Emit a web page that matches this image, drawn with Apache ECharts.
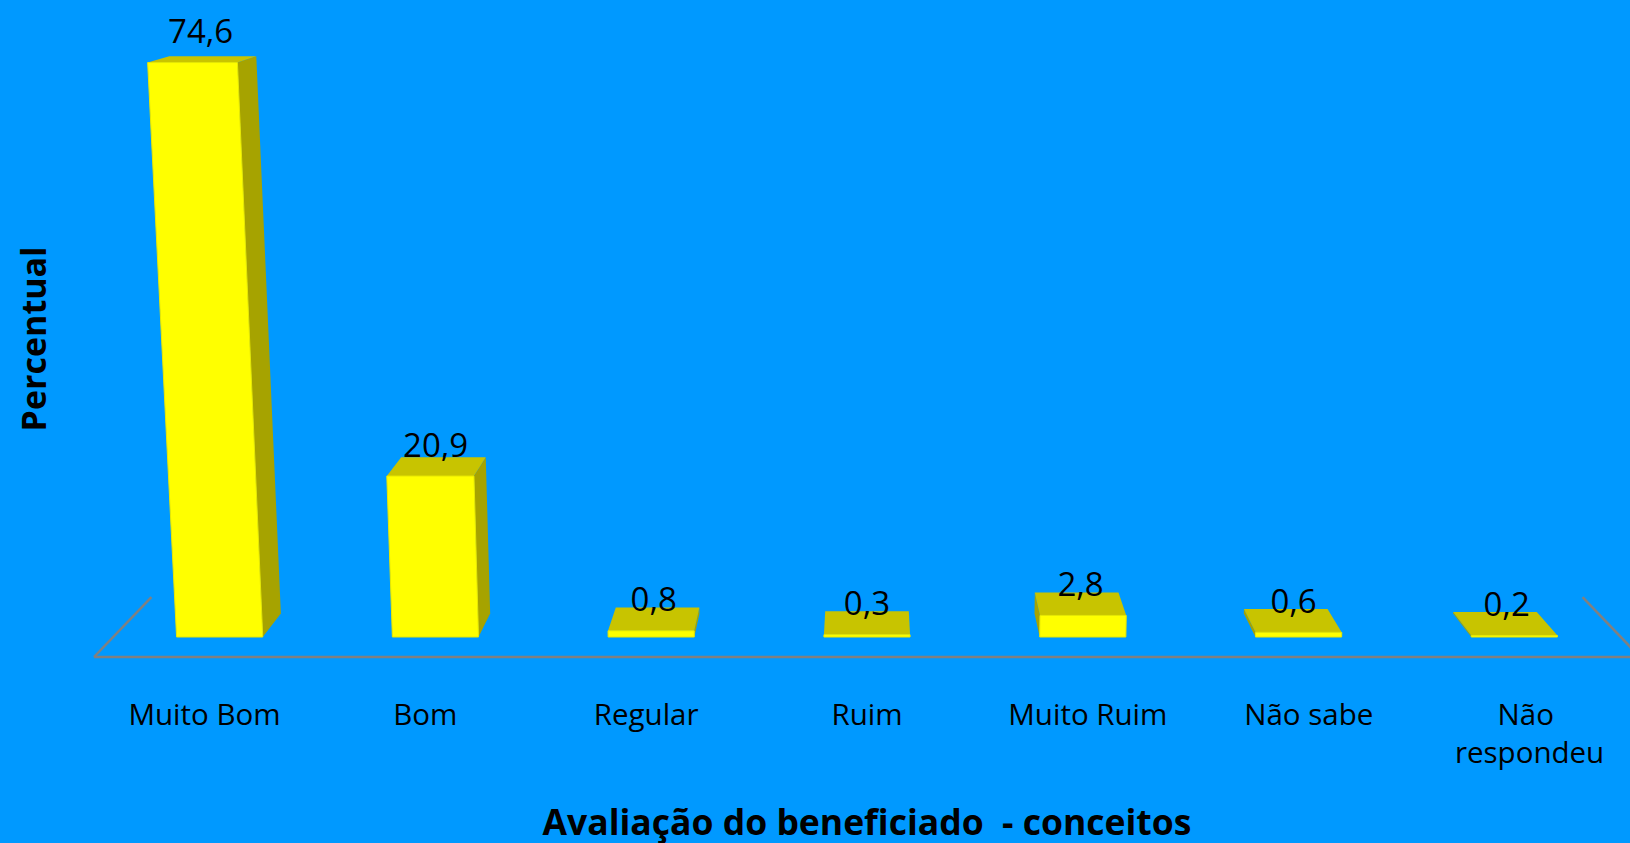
<!DOCTYPE html>
<html>
<head>
<meta charset="utf-8">
<script src="https://cdn.jsdelivr.net/npm/echarts@6/dist/echarts.min.js"></script>
<style>
html,body{margin:0;padding:0;background:#0099FF;}
#chart{width:1630px;height:843px;}
</style>
</head>
<body>
<div id="chart"></div>
<script>
const categories = ['Muito Bom', 'Bom', 'Regular', 'Ruim', 'Muito Ruim', 'Não sabe', 'Não respondeu'];
const values = [74.6, 20.9, 0.8, 0.3, 2.8, 0.6, 0.2];
const xAxisName = 'Avaliação do beneficiado  - conceitos';
const yAxisName = 'Percentual';

const FONT = '"Open Sans", "Noto Sans", sans-serif';
const FRONT = '#FFFF00', TOP = '#C8C400', SIDE = '#A6A300';

function persp(api) {
  const n = categories.length;
  const first = api.coord([0, 0]);
  const last = api.coord([n - 1, 0]);
  const cx = (first[0] + last[0]) / 2;
  const yb = first[1];
  const band = api.size([1, 0])[0];
  const vpy = yb - band * 3.56;
  return { cx, yb, band, vpy, first, last };
}
function toward(P, cx, vpy, t) {
  return [P[0] + t * (cx - P[0]), P[1] + t * (vpy - P[1])];
}

const barData = values.map((v, i) => [i, v]);

const chart = echarts.init(document.getElementById('chart'), null, { renderer: 'svg' });
chart.setOption({
  backgroundColor: '#0099FF',
  animation: false,
  grid: { left: 94, right: -10, top: 21, bottom: 206, containLabel: false, outerBoundsMode: 'none' },
  xAxis: {
    type: 'category',
    data: categories,
    axisLine: { show: false },
    axisTick: { show: false },
    splitLine: { show: false },
    axisLabel: {
      color: '#000', fontFamily: FONT, fontSize: 29.5, lineHeight: 38,
      margin: 57, width: 180, overflow: 'break', interval: 0
    },
    name: xAxisName,
    nameLocation: 'middle',
    nameGap: 167,
    nameTextStyle: { color: '#000', fontFamily: FONT, fontSize: 35.5, fontWeight: 'bold', lineHeight: 33 }
  },
  yAxis: {
    type: 'value',
    min: 0, max: 80,
    axisLine: { show: false },
    axisTick: { show: false },
    axisLabel: { show: false },
    splitLine: { show: false },
    name: yAxisName,
    nameLocation: 'middle',
    nameRotate: 90,
    nameGap: 44,
    nameTextStyle: { color: '#000', fontFamily: FONT, fontSize: 34, fontWeight: 'bold', padding: [0, 20, 0, 0] }
  },
  series: [
    {
      type: 'custom',
      silent: true,
      clip: false,
      z: 1,
      data: [[0, 0]],
      renderItem: function (params, api) {
        const p = persp(api);
        const left = p.first[0] - p.band / 2;
        const right = p.last[0] + p.band / 2;
        const fy = p.yb + 20;
        const t2 = 0.0743;
        const lb = toward([left, fy], p.cx, p.vpy, t2);
        const rb = toward([right, fy], p.cx, p.vpy, t2);
        const st = { stroke: '#808080', lineWidth: 2.5 };
        return {
          type: 'group',
          children: [
            { type: 'line', shape: { x1: left, y1: fy, x2: right, y2: fy }, style: st },
            { type: 'line', shape: { x1: left, y1: fy, x2: lb[0], y2: lb[1] }, style: st },
            { type: 'line', shape: { x1: right, y1: fy, x2: rb[0], y2: rb[1] }, style: st }
          ]
        };
      }
    },
    {
      type: 'custom',
      silent: true,
      clip: false,
      z: 2,
      data: barData,
      renderItem: function (params, api) {
        const p = persp(api);
        const idx = api.value(0);
        const val = api.value(1);
        const base = api.coord([idx, 0]);
        const top = api.coord([idx, val]);
        const cx = p.cx, vpy = p.vpy, t = 0.03, L = 7.3e-5;
        const bx = base[0] + (cx - base[0]) * 0.023;
        const hw = p.band * 0.195;
        const yb = base[1];
        const h = yb - top[1];
        const xl = bx - hw, xr = bx + hw;
        const bl = [xl, yb], br = [xr, yb];
        const tl = [xl + (xl - cx) * L * h, top[1]];
        const tr = [xr + (xr - cx) * L * h, top[1]];
        const B = P => toward(P, cx, vpy, t);
        const children = [];
        if (xr < cx - 1) {
          children.push({ type: 'polygon', shape: { points: [br, tr, B(tr), B(br)] }, style: { fill: SIDE } });
        } else if (xl > cx + 1) {
          children.push({ type: 'polygon', shape: { points: [bl, tl, B(tl), B(bl)] }, style: { fill: SIDE } });
        }
        children.push({ type: 'polygon', shape: { points: [tl, tr, B(tr), B(tl)] }, style: { fill: TOP } });
        children.push({ type: 'polygon', shape: { points: [bl, br, tr, tl] }, style: { fill: FRONT, stroke: '#E8E800', lineWidth: 1 } });
        const fc = (tl[0] + tr[0]) / 2;
        const shift = B([fc, top[1]])[0] - fc;
        children.push({
          type: 'text',
          style: {
            x: fc + shift * 0.4, y: top[1] - 32,
            text: val.toFixed(1).replace('.', ','),
            fill: '#000', font: '33px ' + FONT,
            align: 'center', verticalAlign: 'middle'
          }
        });
        return { type: 'group', children: children };
      }
    }
  ]
});
</script>
</body>
</html>
